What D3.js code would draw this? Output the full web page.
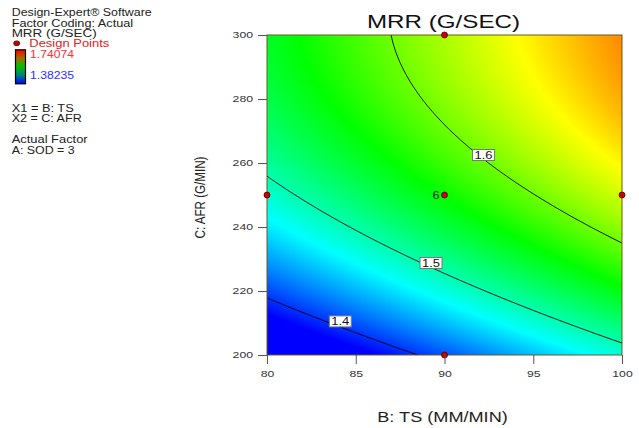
<!DOCTYPE html>
<html>
<head>
<meta charset="utf-8">
<script src="https://cdn.jsdelivr.net/npm/d3@7"></script>
<style>
  html, body { margin: 0; padding: 0; background: #fff; }
  svg { display: block; }
  text { font-family: "Liberation Sans", Arial, sans-serif; }
</style>
</head>
<body>
<div id="chart"></div>
<script>
// ---------------- data ----------------
const chartTitle = "MRR (G/SEC)";
const xTitle = "B: TS (MM/MIN)";
const yTitle = "C: AFR (G/MIN)";
const tsTicks = [80, 85, 90, 95, 100];
const afrTicks = [200, 220, 240, 260, 280, 300];
// quadratic response surface, coded factors: [intercept, B, C, BC, B^2, C^2]
const modelCoef = [1.5627, 0.0736, 0.1052, -0.0018, -0.0011, -0.0462];
const contourLevels = [1.4, 1.5, 1.6];
const contourLabelTS = [84.13, 89.24, 92.2];
const contourLabelAFR = [210.5, 228.75, 262.5];
const designTS = [90, 80, 90, 100, 90];
const designAFR = [300, 250, 250, 250, 200];
const designReps = [1, 1, 6, 1, 1];
const colorRange = ["#0000ff", "#00ffff", "#00ff00", "#ffff00", "#ff0000"];
const legendHigh = 1.74074;
const legendLow = 1.38235;
const legendLines = ["Design-Expert® Software", "Factor Coding: Actual", "MRR (G/SEC)"];
const factorLines = ["X1 = B: TS", "X2 = C: AFR"];
const actualLines = ["Actual Factor", "A: SOD = 3"];

// ---------------- setup ----------------
const W = 639, H = 428;
const L = 267, R = 622, T = 35, B = 355;
const svg = d3.select("#chart").append("svg").attr("width", W).attr("height", H);

const x = d3.scaleLinear().domain(d3.extent(tsTicks)).range([L, R]);
const y = d3.scaleLinear().domain(d3.extent(afrTicks)).range([B, T]);
const tsMid = (tsTicks[0] + tsTicks[tsTicks.length - 1]) / 2, tsHalf = (tsTicks[tsTicks.length - 1] - tsTicks[0]) / 2;
const afrMid = (afrTicks[0] + afrTicks[afrTicks.length - 1]) / 2, afrHalf = (afrTicks[afrTicks.length - 1] - afrTicks[0]) / 2;

function model(ts, afr) {
  const X = (ts - tsMid) / tsHalf, Y = (afr - afrMid) / afrHalf;
  const c = modelCoef;
  return c[0] + c[1] * X + c[2] * Y + c[3] * X * Y + c[4] * X * X + c[5] * Y * Y;
}
const colorStops = d3.quantize(d3.interpolateNumber(legendLow, legendHigh), colorRange.length);
const color = d3.scaleLinear().domain(colorStops).range(colorRange).clamp(true);

// ---------------- heat map ----------------
const pw = R - L, ph = B - T;
const canvas = document.createElement("canvas");
canvas.width = pw; canvas.height = ph;
const ctx = canvas.getContext("2d");
const img = ctx.createImageData(pw, ph);
for (let j = 0; j < ph; j++) {
  const afr = y.invert(T + j + 0.5);
  for (let i = 0; i < pw; i++) {
    const ts = x.invert(L + i + 0.5);
    const c = d3.rgb(color(model(ts, afr)));
    const k = (j * pw + i) * 4;
    img.data[k] = c.r; img.data[k + 1] = c.g; img.data[k + 2] = c.b; img.data[k + 3] = 255;
  }
}
ctx.putImageData(img, 0, 0);
svg.append("image").attr("x", L).attr("y", T).attr("width", pw).attr("height", ph)
  .attr("preserveAspectRatio", "none")
  .attr("href", canvas.toDataURL());

// ---------------- contours ----------------
svg.append("clipPath").attr("id", "plotclip").append("rect")
  .attr("x", L).attr("y", T).attr("width", pw).attr("height", ph);
const step = 1, pad = 4;
const gx0 = L - pad, gy0 = T - pad;
const nx = Math.ceil((pw + 2 * pad) / step) + 1, ny = Math.ceil((ph + 2 * pad) / step) + 1;
const grid = new Float64Array(nx * ny);
for (let j = 0; j < ny; j++) for (let i = 0; i < nx; i++) {
  grid[j * nx + i] = model(x.invert(gx0 + i * step), y.invert(gy0 + j * step));
}
const contours = d3.contours().size([nx, ny]).thresholds(contourLevels)(grid);
const proj = d3.geoIdentity().scale(step).translate([gx0 - 0.5 * step, gy0 - 0.5 * step]);
const gpath = d3.geoPath(proj);
svg.append("g").attr("clip-path", "url(#plotclip)")
  .selectAll("path").data(contours).join("path")
  .attr("d", gpath).attr("fill", "none").attr("stroke", "#000").attr("stroke-width", 0.9);

// frame
svg.append("rect").attr("x", L).attr("y", T).attr("width", pw).attr("height", ph)
  .attr("fill", "none").attr("stroke", "#6a5a1a").attr("stroke-width", 1);

// contour labels
const labG = svg.append("g");
contourLevels.forEach((lv, i) => {
  const cx = x(contourLabelTS[i]), cy = y(contourLabelAFR[i]);
  labG.append("rect").attr("x", cx - 11).attr("y", cy - 5.5).attr("width", 22).attr("height", 11)
    .attr("fill", "#fff").attr("stroke", "#777").attr("stroke-width", 1);
  labG.append("text").attr("x", cx).attr("y", cy + 4).attr("text-anchor", "middle")
    .attr("font-size", 11).attr("textLength", 18).attr("lengthAdjust", "spacingAndGlyphs")
    .attr("fill", "#111").text(d3.format(".1f")(lv));
});

// design points
const ptG = svg.append("g");
designTS.forEach((ts, i) => {
  ptG.append("circle").attr("cx", x(ts)).attr("cy", y(designAFR[i])).attr("r", 3)
    .attr("fill", "#c80000").attr("stroke", "#500000").attr("stroke-width", 0.8);
  if (designReps[i] > 1) {
    ptG.append("text").attr("x", x(ts) - 5).attr("y", y(designAFR[i]) + 3.8)
      .attr("text-anchor", "end").attr("font-size", 11).attr("textLength", 7)
      .attr("lengthAdjust", "spacingAndGlyphs").attr("fill", "#111").text(designReps[i]);
  }
});

// ---------------- axes ----------------
const yAxis = svg.append("g").attr("transform", `translate(${L},0)`)
  .call(d3.axisLeft(y).tickValues(afrTicks).tickSize(9).tickPadding(5).tickFormat(d3.format("d")));
const xAxis = svg.append("g").attr("transform", `translate(0,${B})`)
  .call(d3.axisBottom(x).tickValues(tsTicks).tickSize(9).tickPadding(7).tickFormat(d3.format("d")));
[yAxis, xAxis].forEach(a => {
  a.select(".domain").remove();
  a.selectAll(".tick line").attr("stroke", "#555");
  a.selectAll(".tick text").attr("fill", "#333").attr("font-size", 8.5)
    .attr("font-family", "\"Liberation Sans\", Arial, sans-serif")
    .each(function (d) {
      const s = String(d);
      d3.select(this).attr("textLength", s.length * 6.8).attr("lengthAdjust", "spacingAndGlyphs");
    });
});

// titles
function stretched(g, px, py, s, size, width, anchor, fill) {
  return g.append("text").attr("x", px).attr("y", py).attr("font-size", size)
    .attr("text-anchor", anchor || "start").attr("textLength", width)
    .attr("lengthAdjust", "spacingAndGlyphs").attr("fill", fill || "#111").text(s);
}
stretched(svg, 443.5, 28.3, chartTitle, 18, 153, "middle", "#111");
stretched(svg, 442.5, 422.3, xTitle, 15, 130.5, "middle", "#222");
svg.append("text")
  .attr("transform", `translate(205,197.5) scale(1.27,1) rotate(-90)`)
  .attr("text-anchor", "middle").attr("font-size", 11)
  .attr("textLength", 82).attr("lengthAdjust", "spacingAndGlyphs")
  .attr("fill", "#222").text(yTitle);

// ---------------- legend ----------------
const lg = svg.append("g");
const legendWidths = [140, 121.5, 85];
const legendBase = [15.7, 26.5, 36.5];
legendLines.forEach((s, i) => stretched(lg, 11.7, legendBase[i], s, 10, legendWidths[i], "start", "#222"));
lg.append("ellipse").attr("cx", 16.7).attr("cy", 43.3).attr("rx", 3).attr("ry", 2.4)
  .attr("fill", "#c80000").attr("stroke", "#300").attr("stroke-width", 0.8);
stretched(lg, 29.3, 46.8, "Design Points", 10, 80, "start", "#e02020");

const defs = svg.append("defs");
const grad = defs.append("linearGradient").attr("id", "cbar").attr("x1", 0).attr("x2", 0).attr("y1", 1).attr("y2", 0);
const barStops = ["#0000ff", "#008080", "#00c000", "#a07000", "#ff0000"];
barStops.forEach((c, i) => grad.append("stop").attr("offset", i / (barStops.length - 1)).attr("stop-color", c));
lg.append("rect").attr("x", 15.5).attr("y", 49.8).attr("width", 10).attr("height", 34)
  .attr("fill", "url(#cbar)").attr("stroke", "#000").attr("stroke-width", 1.2);
stretched(lg, 30, 57.5, d3.format(".5f")(legendHigh), 10, 44, "start", "#ff3030");
stretched(lg, 30, 79.2, d3.format(".5f")(legendLow), 10, 44, "start", "#3030ff");

const factorWidths = [62, 70];
const factorBase = [111.7, 121.7];
factorLines.forEach((s, i) => stretched(lg, 11.7, factorBase[i], s, 10, factorWidths[i], "start", "#222"));
const actualWidths = [76, 63];
const actualBase = [143.3, 154.3];
actualLines.forEach((s, i) => stretched(lg, 11.7, actualBase[i], s, 10, actualWidths[i], "start", "#222"));
</script>
</body>
</html>
